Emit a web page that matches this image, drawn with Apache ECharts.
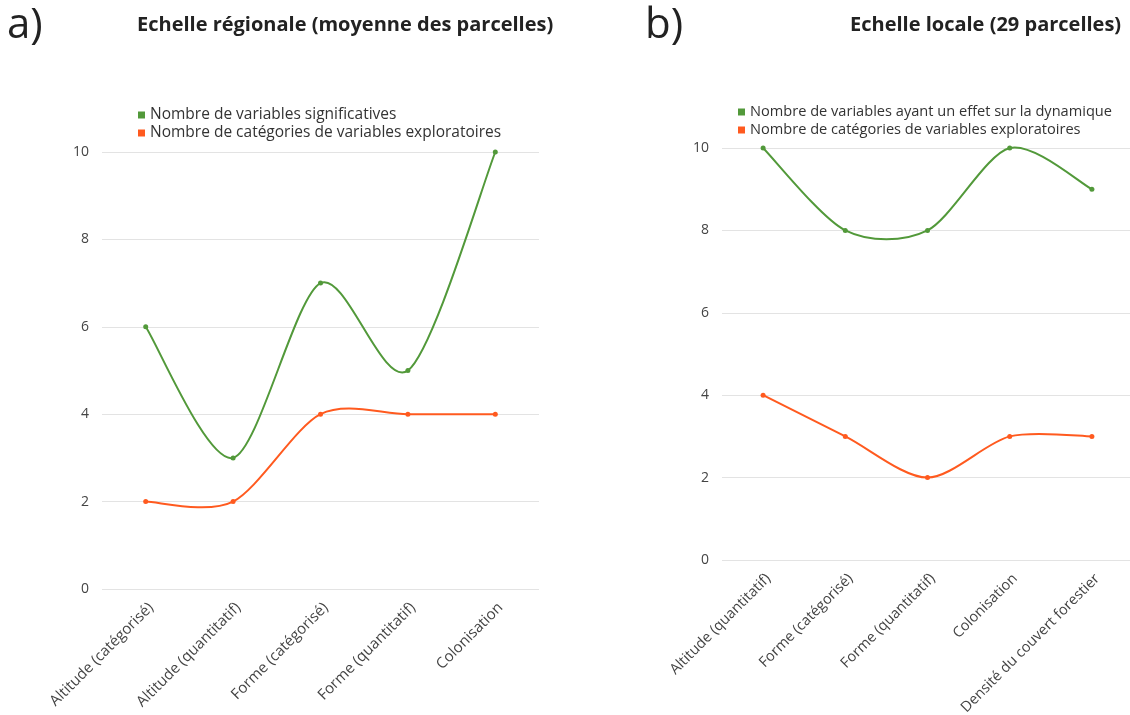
<!DOCTYPE html>
<html>
<head>
<meta charset="utf-8">
<script src="https://cdn.jsdelivr.net/npm/echarts@6/dist/echarts.min.js"></script>
<style>
html,body{margin:0;padding:0;background:#fff;}
#c{width:1130px;height:715px;}
</style>
</head>
<body>
<div id="c"></div>
<script>
const catsA = ['Altitude (catégorisé)', 'Altitude (quantitatif)', 'Forme (catégorisé)', 'Forme (quantitatif)', 'Colonisation'];
const sigA = [6, 3, 7, 5, 10];
const catA = [2, 2, 4, 4, 4];
const catsB = ['Altitude (quantitatif)', 'Forme (catégorisé)', 'Forme (quantitatif)', 'Colonisation', 'Densité du couvert forestier'];
const effB = [10, 8, 8, 10, 9];
const catB = [4, 3, 2, 3, 3];
const nameSigA = 'Nombre de variables significatives';
const nameEffB = 'Nombre de variables ayant un effet sur la dynamique';
const nameCat = 'Nombre de catégories de variables exploratoires';
const yTicks = [0, 2, 4, 6, 8, 10];

const GREEN = '#52993a';
const ORANGE = '#ff5a1f';
const FONT = 'Open Sans';
const TENSION = 0.145;

const chart = echarts.init(document.getElementById('c'));

function xAxis(idx, cats, fs) {
  return {
    type: 'category', gridIndex: idx, data: cats, boundaryGap: true,
    axisLine: { show: false }, axisTick: { show: false },
    axisLabel: { rotate: 45, interval: 0, color: '#444', fontSize: fs, fontFamily: FONT, margin: 11, verticalAlign: 'top' }
  };
}
function yAxis(idx) {
  return {
    type: 'value', gridIndex: idx, min: yTicks[0], max: yTicks[yTicks.length - 1], interval: 2,
    axisLine: { show: false }, axisTick: { show: false },
    axisLabel: { color: '#444', fontSize: 14, fontFamily: FONT, margin: 13 },
    splitLine: { lineStyle: { color: '#e3e3e3', width: 1 } }
  };
}
function points(name, data, color, idx) {
  return {
    name: name, type: 'line', xAxisIndex: idx, yAxisIndex: idx, data: data, z: 3,
    symbol: 'circle', symbolSize: 5, showSymbol: true,
    lineStyle: { color: color, width: 0, opacity: 0 }, itemStyle: { color: color }
  };
}
// Smooth Catmull-Rom style curve drawn through the data via the axis scales
function curve(data, color, idx) {
  return {
    name: '_curve' + idx + color, type: 'custom', xAxisIndex: idx, yAxisIndex: idx, z: 2,
    data: data.map((v, i) => [i, v]),
    renderItem: function (params, api) {
      const i = params.dataIndex;
      if (i >= data.length - 1) return null;
      const p = k => {
        const j = Math.max(0, Math.min(data.length - 1, k));
        return api.coord([j, data[j]]);
      };
      const P0 = p(i - 1), P1 = p(i), P2 = p(i + 1), P3 = p(i + 2);
      return {
        type: 'bezierCurve',
        shape: {
          x1: P1[0], y1: P1[1], x2: P2[0], y2: P2[1],
          cpx1: P1[0] + (P2[0] - P0[0]) * TENSION, cpy1: P1[1] + (P2[1] - P0[1]) * TENSION,
          cpx2: P2[0] - (P3[0] - P1[0]) * TENSION, cpy2: P2[1] - (P3[1] - P1[1]) * TENSION
        },
        style: { stroke: color, lineWidth: 2, fill: null }
      };
    },
    silent: true
  };
}

chart.setOption({
  animation: false,
  textStyle: { fontFamily: FONT },
  title: [
    { text: 'a)', left: 2, top: 0, textStyle: { fontSize: 42, fontWeight: 'normal', color: '#222', fontFamily: FONT } },
    { text: 'Echelle régionale (moyenne des parcelles)', left: 132, top: 10, textStyle: { fontSize: 20, fontWeight: 'bold', color: '#222', fontFamily: FONT } },
    { text: 'b)', left: 640, top: 0, textStyle: { fontSize: 42, fontWeight: 'normal', color: '#222', fontFamily: FONT } },
    { text: 'Echelle locale (29 parcelles)', left: 845, top: 10, textStyle: { fontSize: 20, fontWeight: 'bold', color: '#222', fontFamily: FONT } }
  ],
  legend: [
    { data: [nameSigA, nameCat], orient: 'vertical', left: 133, top: 101, icon: 'rect', itemWidth: 7, itemHeight: 7, itemGap: 0,
      textStyle: { fontSize: 15.5, color: '#333', fontFamily: FONT, lineHeight: 18 }, selectedMode: false },
    { data: [nameEffB, nameCat], orient: 'vertical', left: 733, top: 98, icon: 'rect', itemWidth: 7, itemHeight: 7, itemGap: 0,
      textStyle: { fontSize: 14.6, color: '#333', fontFamily: FONT, lineHeight: 18 }, selectedMode: false }
  ],
  grid: [
    { left: 102, right: 591, top: 152, bottom: 126, outerBoundsMode: 'none', containLabel: false },
    { left: 722, right: -3, top: 148, bottom: 155, outerBoundsMode: 'none', containLabel: false }
  ],
  xAxis: [xAxis(0, catsA, 15), xAxis(1, catsB, 14.5)],
  yAxis: [yAxis(0), yAxis(1)],
  series: [
    curve(sigA, GREEN, 0),
    curve(catA, ORANGE, 0),
    curve(effB, GREEN, 1),
    curve(catB, ORANGE, 1),
    points(nameSigA, sigA, GREEN, 0),
    points(nameCat, catA, ORANGE, 0),
    points(nameEffB, effB, GREEN, 1),
    points(nameCat, catB, ORANGE, 1)
  ]
});
</script>
</body>
</html>
